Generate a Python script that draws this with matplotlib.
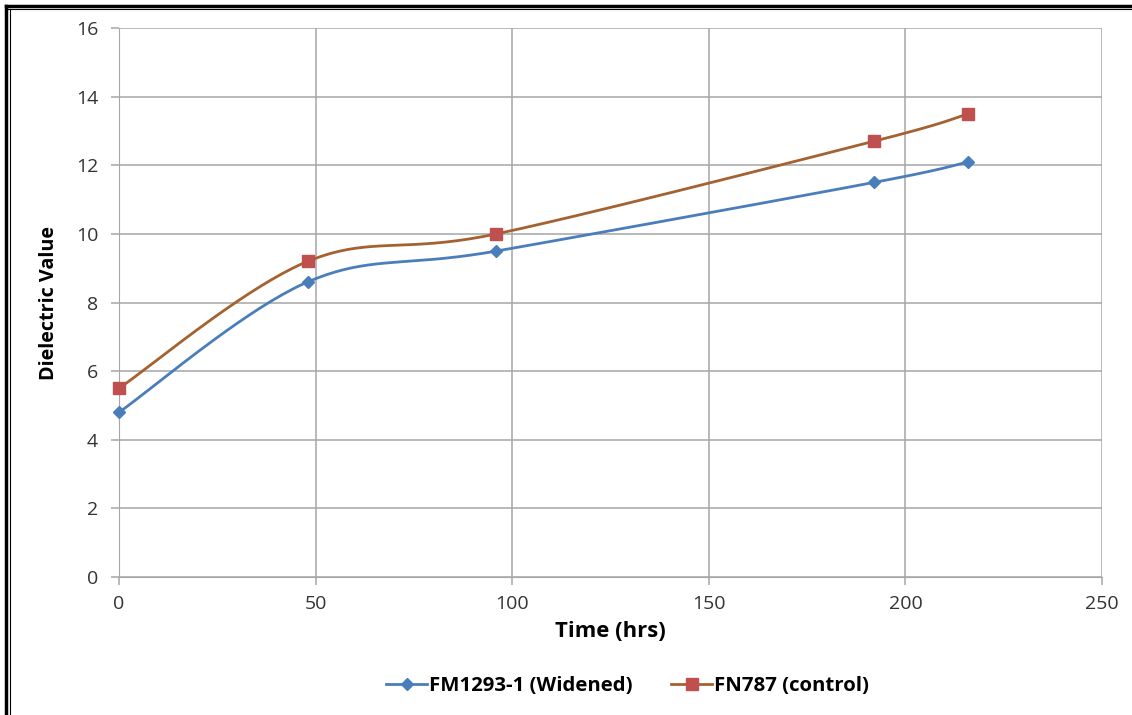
import numpy as np
import matplotlib
matplotlib.use("Agg")
import matplotlib.pyplot as plt
from matplotlib.lines import Line2D

hours = [0, 48, 96, 192, 216]
widened = [4.8, 8.6, 9.5, 11.5, 12.1]
control = [5.5, 9.2, 10.0, 12.7, 13.5]

plt.rcParams['font.family'] = ['Open Sans', 'DejaVu Sans']


def smooth(xs, ys, n=40):
    # excel-like smoothed line (bezier, catmull-rom control points)
    xs = np.asarray(xs, float)
    ys = np.asarray(ys, float)
    px, py = [], []
    for i in range(len(xs) - 1):
        i0 = max(i - 1, 0)
        i3 = min(i + 2, len(xs) - 1)
        c1x = xs[i] + (xs[i + 1] - xs[i0]) / 6
        c1y = ys[i] + (ys[i + 1] - ys[i0]) / 6
        c2x = xs[i + 1] - (xs[i3] - xs[i]) / 6
        c2y = ys[i + 1] - (ys[i3] - ys[i]) / 6
        t = np.linspace(0, 1, n)
        a = (1 - t) ** 3
        b = 3 * (1 - t) ** 2 * t
        c = 3 * (1 - t) * t ** 2
        d = t ** 3
        px.extend(a * xs[i] + b * c1x + c * c2x + d * xs[i + 1])
        py.extend(a * ys[i] + b * c1y + c * c2y + d * ys[i + 1])
    return px, py


fig = plt.figure(figsize=(11.32, 7.15), dpi=100)
ax = fig.add_axes([0.1051, 0.193, 0.8684, 0.7678])

blue = '#4A7EBB'
red = '#C0504D'
brown = '#A3622F'

sx, sy = smooth(hours, widened)
ax.plot(sx, sy, color=blue, lw=2, zorder=3, clip_on=False)
ax.plot(hours, widened, ls='none', marker='D', ms=6.5, color=blue, zorder=4,
        clip_on=False)
sx, sy = smooth(hours, control)
ax.plot(sx, sy, color=brown, lw=2, zorder=3, clip_on=False)
ax.plot(hours, control, ls='none', marker='s', ms=9, color=red, zorder=4,
        clip_on=False)

ax.set_xlim(0, 250)
ax.set_ylim(0, 16)
ax.set_xticks(np.arange(0, 251, 50))
ax.set_yticks(np.arange(0, 17, 2))
ax.grid(True, color='#a6a6a6', lw=1.1)
ax.set_axisbelow(True)
for s in ax.spines.values():
    s.set_visible(False)
ax.spines['left'].set_visible(True)
ax.spines['bottom'].set_visible(True)
ax.spines['left'].set_color('#a6a6a6')
ax.spines['bottom'].set_color('#a6a6a6')
ax.tick_params(colors='#a6a6a6', labelcolor='#333333', labelsize=14,
               length=6, width=1.1)
ax.tick_params(axis='x', pad=7)
ax.tick_params(axis='y', pad=9)

ax.set_xlabel('Time (hrs)', fontsize=15.8, fontweight='bold', labelpad=6)
ax.set_ylabel('Dielectric Value', fontsize=14.2, fontweight='bold', labelpad=12)

handles = [
    Line2D([], [], color=blue, lw=2, marker='D', ms=6),
    Line2D([], [], color=brown, lw=2, marker='s', ms=9, mfc=red, mec=red),
]
fig.legend(handles, ['FM1293-1 (Widened)', 'FN787 (control)'],
           loc='center', bbox_to_anchor=(0.5545, 0.040), ncol=2, frameon=False,
           prop={'size': 14.7, 'weight': 'bold'}, handlelength=2.0,
           handletextpad=0.1, columnspacing=1.9)

# double frame along top and left edges
fig.add_artist(Line2D([0.005, 1], [0.9915, 0.9915], color='black', lw=2.5))
fig.add_artist(Line2D([0.005, 1], [0.9875, 0.9875], color='black', lw=0.8))
fig.add_artist(Line2D([0.0055, 0.0055], [0, 0.9915], color='black', lw=2.5))
fig.add_artist(Line2D([0.0085, 0.0085], [0, 0.9875], color='black', lw=0.8))

fig.savefig('out.png', dpi=100)
